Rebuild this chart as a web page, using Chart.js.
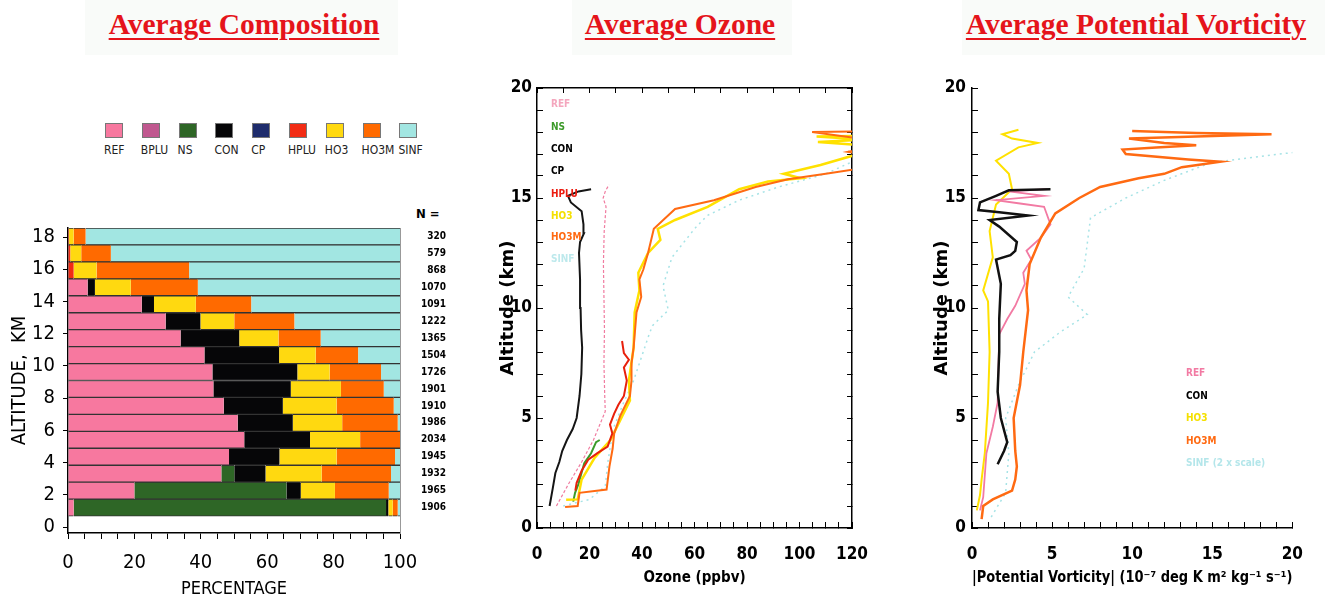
<!DOCTYPE html>
<html>
<head>
<meta charset="utf-8">
<title>Average Composition, Ozone and Potential Vorticity</title>
<script src="https://cdn.jsdelivr.net/npm/chart.js@4.4.1/dist/chart.umd.min.js"></script>
<style>
  body { margin: 0; background: #fff; }
  #page { position: relative; width: 1325px; height: 602px; overflow: hidden; }
  .titlebox { position: absolute; top: 0; height: 55px; background: #f9fbf9; }
  .title { position: absolute; top: 6px; text-align: center; white-space: nowrap;
           font: bold 29.5px 'Liberation Serif', 'Times New Roman', serif; color: #e5141b; line-height: 36px; }
  .title span { text-decoration: underline; text-decoration-thickness: 2px; text-underline-offset: 4px; }
  canvas { position: absolute; }
  .lbl { position: absolute; white-space: nowrap; line-height: 1; transform: translateY(-50%);
         font: bold 10px 'Liberation Sans Narrow', 'DejaVu Sans Condensed', 'Liberation Sans', sans-serif; }
  .swatch { position: absolute; width: 18px; height: 15px; border: 1px solid #777; box-sizing: border-box; }
  .swlbl { position: absolute; top: 143px; white-space: nowrap; color: #222;
           font: 12px 'Liberation Sans Narrow', 'DejaVu Sans Condensed', 'Liberation Sans', sans-serif; }
</style>
</head>
<body>
<div id="page">
  <div class="titlebox" style="left:85px;width:313px"></div>
  <div class="titlebox" style="left:572px;width:220px"></div>
  <div class="titlebox" style="left:962px;width:363px"></div>
  <div class="title" style="left:44px;width:400px"><span>Average Composition</span></div>
  <div class="title" style="left:480px;width:400px"><span>Average Ozone</span></div>
  <div class="title" style="left:936px;width:400px"><span>Average Potential Vorticity</span></div>

  <div id="compLegend"></div>
  <div class="lbl" style="left:416px;top:213px;font-size:13px">N =</div>

  <canvas id="comp" width="460" height="402" style="left:0;top:200px"></canvas>
  <canvas id="ozone" width="420" height="542" style="left:470px;top:60px"></canvas>
  <canvas id="pv" width="425" height="542" style="left:900px;top:60px"></canvas>
  <div id="ozoneLegend"></div>
  <div id="pvLegend"></div>
</div>

<script>
const NARROW = "'Liberation Sans Narrow', 'DejaVu Sans Condensed', 'Liberation Sans', Arial, sans-serif";

// ---------- Average Composition : percentage per 1 km layer, top layer first ----------
const layerLabels = ['17-18', '16-17', '15-16', '14-15', '13-14', '12-13', '11-12', '10-11', '9-10',
                     '8-9', '7-8', '6-7', '5-6', '4-5', '3-4', '2-3', '1-2', '0-1'];
const sampleCounts = ['320', '579', '868', '1070', '1091', '1222', '1365', '1504', '1726',
                      '1901', '1910', '1986', '2034', '1945', '1932', '1965', '1906', ''];
const altitudeTicks = [0, 2, 4, 6, 8, 10, 12, 14, 16, 18];
const classNames = ['REF', 'BPLU', 'NS', 'CON', 'CP', 'HPLU', 'HO3', 'HO3M', 'SINF'];
const classColors = ['#f7789f', '#c0588f', '#2e6626', '#060608', '#1e2c6c', '#f22c14', '#ffd910', '#ff6a00', '#a2e6e2'];

const pctREF  = [0, 0, 0, 5.9, 22.2, 29.4, 33.9, 41.1, 43.5, 43.8, 46.9, 51.1, 53.1, 48.5, 46.2, 20.0, 1.7, null];
const pctBPLU = [0, 0, 0, 0, 0, 0, 0, 0, 0, 0, 0, 0, 0, 0, 0, 0, 0, null];
const pctNS   = [0, 0, 0, 0, 0, 0, 0, 0, 0, 0, 0, 0, 0, 0, 3.9, 45.8, 94.1, null];
const pctCON  = [0, 0, 0, 2.2, 3.7, 10.5, 17.7, 22.5, 25.6, 23.3, 17.8, 16.6, 19.8, 15.2, 9.4, 4.3, 0.7, null];
const pctCP   = [0, 0, 0, 0, 0, 0, 0, 0, 0, 0, 0, 0, 0, 0, 0, 0, 0, null];
const pctHPLU = [0.3, 0.7, 1.7, 0, 0, 0, 0, 0, 0, 0, 0, 0, 0, 0, 0, 0, 0, null];
const pctHO3  = [1.4, 3.3, 6.9, 10.8, 12.6, 10.2, 11.8, 11.0, 9.7, 15.1, 16.2, 14.9, 15.1, 17.2, 16.9, 10.3, 1.3, null];
const pctHO3M = [3.6, 8.9, 27.9, 20.2, 16.7, 18.1, 12.7, 12.8, 15.5, 12.9, 17.2, 16.7, 12.0, 17.6, 20.9, 16.2, 1.5, null];
const pctSINF = [94.7, 87.1, 63.5, 60.9, 44.8, 31.8, 23.9, 12.6, 5.7, 4.9, 1.9, 0.7, 0, 1.5, 2.7, 3.4, 0.7, null];
const composition = [pctREF, pctBPLU, pctNS, pctCON, pctCP, pctHPLU, pctHO3, pctHO3M, pctSINF];

// ---------- Average Ozone (ppbv) vs altitude (km) ----------
const o3RefX   = [7.4, 12.0, 17.0, 21.5, 26.0, 25.8, 25.5, 25.7, 25.5, 25.3, 25.6, 26.3, 25.2, 26.0, 27.4];
const o3RefAlt = [1.0, 2.0, 3.0, 4.0, 5.3, 6.0, 7.5, 9.0, 10.5, 12.0, 13.5, 14.6, 15.0, 15.3, 15.6];
const o3NsX    = [13.8, 14.5, 15.8, 18.0, 20.6, 22.5, 23.9];
const o3NsAlt  = [1.2, 1.6, 2.0, 2.95, 3.4, 3.9, 4.0];
const o3ConX   = [4.8, 6.0, 7.0, 8.5, 9.6, 11.4, 13.6, 15.1, 16.2, 16.9, 17.2, 16.8, 16.6, 16.4, 16.0, 16.4, 17.9, 17.7, 17.0, 12.9, 11.8, 15.8, 20.6];
const o3ConAlt = [1.0, 1.8, 2.5, 3.0, 3.5, 4.0, 4.5, 5.0, 6.0, 7.0, 8.2, 9.0, 10.0, 11.3, 12.5, 13.0, 13.4, 13.8, 14.4, 14.8, 15.1, 15.3, 15.4];
const o3HpluX   = [14.6, 15.1, 17.0, 19.5, 23.0, 26.9, 28.7, 27.8, 29.4, 31.0, 33.1, 34.2, 33.1, 35.0, 33.1, 32.4];
const o3HpluAlt = [1.7, 2.05, 2.6, 3.1, 3.4, 3.7, 4.3, 4.7, 5.2, 5.6, 6.0, 6.7, 7.3, 7.65, 7.95, 8.5];
const o3Ho3X   = [11.1, 15.5, 17.0, 22.0, 28.0, 31.7, 35.4, 35.0, 36.8, 37.2, 39.0, 38.6, 42.3, 47.0, 46.0, 52.6, 65.0, 77.0,
                  88.0, 100.5, 94.0, 108.0, 121.0, 135.0, 107.0, 125.0, 106.5, 135.0];
const o3Ho3Alt = [1.28, 1.3, 2.2, 3.2, 4.0, 4.9, 5.8, 6.7, 8.2, 9.8, 10.8, 11.6, 12.5, 13.1, 13.6, 14.0, 14.6, 15.4,
                  15.75, 15.9, 16.1, 16.5, 16.95, 17.3, 17.55, 17.65, 17.8, 17.85];
const o3Ho3mX   = [10.7, 15.5, 16.2, 26.5, 27.6, 28.8, 29.4, 31.7, 35.4, 36.0, 36.0, 36.8, 37.9, 39.7, 39.0, 40.5, 42.3, 44.5,
                   52.6, 67.4, 83.3, 95.6, 110.0, 121.0, 135.0, 118.5, 135.0, 104.8, 135.0];
const o3Ho3mAlt = [0.96, 1.0, 1.6, 1.75, 2.8, 3.6, 4.3, 5.1, 6.0, 6.7, 7.5, 8.2, 9.8, 10.5, 11.3, 11.75, 12.5, 13.6,
                   14.5, 14.9, 15.5, 15.85, 16.1, 16.3, 16.8, 17.1, 17.5, 18.0, 18.05];
const o3SinfX   = [10.0, 20.0, 26.0, 27.0, 29.0, 33.0, 36.8, 42.7, 44.0, 50.0, 48.0, 51.4, 60.0, 64.8, 77.0, 92.0, 110.0, 121.0];
const o3SinfAlt = [1.0, 1.3, 1.9, 3.0, 4.5, 5.7, 6.7, 8.8, 9.2, 9.9, 11.0, 12.3, 13.6, 14.2, 14.9, 15.5, 16.1, 16.7];

// ---------- Average |PV| (1e-7 deg K m2 kg-1 s-1) vs altitude (km) ----------
const pvRefX   = [0.5, 0.7, 0.9, 1.3, 1.6, 1.7, 2.2, 2.7, 3.3, 3.2, 3.7, 3.4, 4.3, 4.9, 4.5, 3.0, 1.5, 4.5, 2.3, 4.7];
const pvRefAlt = [0.8, 1.4, 3.4, 4.6, 5.7, 8.8, 9.5, 10.1, 11.1, 11.6, 12.2, 12.6, 13.2, 13.8, 14.6, 14.75, 14.9, 15.1, 15.3, 15.4];
const pvConX   = [1.6, 2.0, 2.2, 1.8, 1.6, 1.7, 1.7, 1.8, 1.5, 2.4, 2.7, 2.8, 1.7, 1.1, 3.5, 1.7, 0.4, 0.5, 1.5, 2.3, 4.9];
const pvConAlt = [2.9, 3.5, 3.9, 5.0, 6.2, 8.0, 9.5, 11.1, 12.2, 12.4, 12.6, 13.0, 13.7, 14.0, 14.2, 14.35, 14.45, 14.8, 15.1, 15.35, 15.4];
const pvHo3X   = [0.3, 0.5, 0.6, 0.8, 1.0, 1.1, 1.0, 0.7, 1.3, 1.1, 1.5, 2.5, 2.3, 1.5, 2.9, 4.1, 2.5, 1.9, 2.9];
const pvHo3Alt = [0.8, 1.5, 2.2, 3.4, 5.7, 8.0, 10.3, 10.8, 12.3, 13.5, 14.7, 15.4, 16.1, 16.7, 17.3, 17.5, 17.7, 17.9, 18.1];
const pvHo3mX   = [0.6, 0.7, 1.3, 2.5, 2.7, 2.8, 2.7, 2.6, 3.0, 3.2, 3.5, 3.4, 3.6, 4.3, 5.2, 6.7, 8.0, 10.4, 12.0, 13.1,
                   15.5, 13.5, 9.6, 9.4, 11.5, 14.0, 12.0, 9.8, 14.0, 18.7, 14.0, 10.0];
const pvHo3mAlt = [0.4, 1.0, 1.3, 1.7, 2.2, 2.8, 3.5, 5.0, 6.5, 8.0, 9.9, 10.8, 12.0, 13.2, 14.3, 15.0, 15.5, 15.9, 16.1, 16.4,
                   16.65, 16.75, 17.0, 17.2, 17.3, 17.4, 17.5, 17.7, 17.8, 17.9, 17.95, 18.05];
const pvSinfX   = [1.2, 2.1, 2.3, 2.1, 2.9, 3.9, 5.5, 7.2, 6.0, 7.0, 7.4, 9.6, 12.0, 14.9, 19.2, 20.5];
const pvSinfAlt = [0.5, 1.6, 3.4, 5.0, 6.5, 8.0, 8.9, 9.7, 10.5, 11.8, 14.1, 15.0, 15.8, 16.6, 17.0, 17.1];

const ozoneTicks = [0, 20, 40, 60, 80, 100, 120];
const pvTicks = [0, 5, 10, 15, 20];
const altTicks = [0, 5, 10, 15, 20];

// ---------- legends (html text) ----------
function addLabel(parentId, text, left, top, color) {
  let el = document.createElement('div');
  el.className = 'lbl';
  el.style.left = left + 'px';
  el.style.top = top + 'px';
  el.style.color = color;
  el.textContent = text;
  document.getElementById(parentId).append(el);
}

for (let i = 0; i < classNames.length; i++) {
  let x = 105 + i * 36.8;
  let sw = document.createElement('div');
  sw.className = 'swatch';
  sw.style.left = x + 'px';
  sw.style.top = '123px';
  sw.style.background = classColors[i];
  let tx = document.createElement('div');
  tx.className = 'swlbl';
  tx.style.left = (x - 1) + 'px';
  tx.textContent = classNames[i];
  document.getElementById('compLegend').append(sw, tx);
}

addLabel('ozoneLegend', 'REF', 551, 103, '#f4a6bd');
addLabel('ozoneLegend', 'NS', 551, 126, '#3c9a2a');
addLabel('ozoneLegend', 'CON', 551, 148, '#000');
addLabel('ozoneLegend', 'CP', 551, 170, '#000');
addLabel('ozoneLegend', 'HPLU', 551, 193, '#ec1c10');
addLabel('ozoneLegend', 'HO3', 551, 215, '#f5e000');
addLabel('ozoneLegend', 'HO3M', 551, 236, '#ff6a12');
addLabel('ozoneLegend', 'SINF', 551, 258, '#bde9ec');

addLabel('pvLegend', 'REF', 1186, 372, '#f27aa3');
addLabel('pvLegend', 'CON', 1186, 395, '#000');
addLabel('pvLegend', 'HO3', 1186, 417, '#f5e000');
addLabel('pvLegend', 'HO3M', 1186, 440, '#ff6a12');
addLabel('pvLegend', 'SINF (2 x scale)', 1186, 462, '#b4e6ea');

// ---------- composition chart ----------
new Chart(document.getElementById('comp'), {
  type: 'bar',
  data: {
    labels: layerLabels,
    datasets: classNames.map((name, k) => ({
      label: name,
      data: composition[k].map(v => (v ? v : null)),
      backgroundColor: classColors[k],
      borderColor: '#333',
      borderWidth: { top: 1, bottom: 1, left: 0, right: 0 },
      borderSkipped: false,
      barPercentage: 1,
      categoryPercentage: 1
    }))
  },
  options: {
    indexAxis: 'y',
    responsive: false,
    animation: false,
    layout: { padding: { top: 28, left: 0, right: 14, bottom: 0 } },
    plugins: { legend: { display: false }, tooltip: { enabled: false } },
    scales: {
      x: {
        stacked: true, min: 0, max: 100,
        ticks: { stepSize: 5, autoSkip: false, maxRotation: 0, padding: 12, color: '#000',
                 font: { family: NARROW, size: 20 },
                 callback: v => (v % 20 === 0 ? v : '') },
        grid: { drawOnChartArea: false, tickLength: 6, color: '#000' },
        border: { color: '#000', width: 1.5 },
        title: { display: true, text: 'PERCENTAGE', color: '#000',
                 font: { family: NARROW, size: 18 }, padding: { top: 0, bottom: 2 } },
        afterFit: s => { s.height = 69; }
      },
      y: { stacked: true, display: false },
      alt: {
        type: 'linear', position: 'left', min: -0.37, max: 18.56, bounds: 'data', offset: false,
        afterBuildTicks: s => { s.ticks = altitudeTicks.map(v => ({ value: v })); },
        ticks: { autoSkip: false, padding: 8, color: '#000', font: { family: NARROW, size: 20 } },
        grid: { drawOnChartArea: false, offset: false, tickLength: 5, color: '#000' },
        border: { color: '#000', width: 1.5 },
        title: { display: true, text: 'ALTITUDE,  KM', color: '#000',
                 font: { family: NARROW, size: 20 }, padding: { top: 8, bottom: 0 } },
        afterFit: s => { s.width = 68; }
      },
      n: {
        type: 'category', position: 'right', labels: sampleCounts, offset: true,
        grid: { display: false, drawTicks: false },
        border: { color: '#999', width: 1 },
        ticks: { crossAlign: 'far', padding: 0, autoSkip: false, color: '#000',
                 font: { family: NARROW, size: 10, weight: 'bold' } },
        afterFit: s => { s.width = 46; }
      }
    }
  }
});

// ---------- profile charts ----------
function pairs(xs, ys) {
  return xs.map((x, i) => ({ x: x, y: ys[i] }));
}

function profile(label, xs, ys, color, width, dash) {
  return {
    label: label,
    data: pairs(xs, ys),
    showLine: true,
    borderColor: color,
    backgroundColor: color,
    borderWidth: width,
    borderDash: dash || [],
    pointRadius: 0,
    tension: 0,
    fill: false
  };
}

const tickFont = { family: NARROW, size: 17, weight: 'bold' };

function valueAxis(max, step, labels, title, titleFont, titlePad, labelPad, size, horizontal) {
  return {
    type: 'linear', min: 0, max: max,
    ticks: { stepSize: step, autoSkip: false, maxRotation: 0, padding: labelPad, color: '#000', font: tickFont,
             callback: v => (labels.includes(v) ? v : '') },
    grid: { drawOnChartArea: false, tickLength: -6, color: '#000' },
    border: { color: '#000', width: 1.5 },
    title: { display: true, text: title, color: '#000', font: titleFont, padding: titlePad },
    afterFit: s => { if (horizontal) { s.height = size; } else { s.width = size; } }
  };
}

new Chart(document.getElementById('ozone'), {
  type: 'scatter',
  data: {
    datasets: [
      profile('HPLU', o3HpluX, o3HpluAlt, '#e8200c', 2),
      profile('HO3M', o3Ho3mX, o3Ho3mAlt, '#ff6a12', 2),
      profile('HO3', o3Ho3X, o3Ho3Alt, '#ffe100', 2.5),
      profile('NS', o3NsX, o3NsAlt, '#3c9a2a', 2),
      profile('CON', o3ConX, o3ConAlt, '#151515', 2),
      profile('REF', o3RefX, o3RefAlt, '#f07ca0', 1.2, [3, 2]),
      profile('SINF', o3SinfX, o3SinfAlt, '#a6e3e6', 1.5, [2, 4])
    ]
  },
  options: {
    responsive: false,
    animation: false,
    layout: { padding: 0 },
    plugins: { legend: { display: false }, tooltip: { enabled: false } },
    scales: {
      x: valueAxis(120, 5, ozoneTicks, 'Ozone (ppbv)', { family: NARROW, size: 15, weight: 'bold' },
                   { top: 0, bottom: 15 }, 22, 74, true),
      y: valueAxis(20, 1, altTicks, 'Altitude (km)', { family: "'DejaVu Sans', sans-serif", size: 18, weight: 'bold' },
                   { top: 28, bottom: 0 }, 11, 67, false),
      xTop: {
        type: 'linear', position: 'top', min: 0, max: 120,
        ticks: { display: false, stepSize: 10 },
        grid: { drawOnChartArea: false, tickLength: -5, color: '#000' },
        border: { color: '#000', width: 1.5 },
        afterFit: s => { s.height = 28; }
      },
      yRight: {
        type: 'linear', position: 'right', min: 0, max: 20,
        ticks: { display: false, stepSize: 1 },
        grid: { drawOnChartArea: false, tickLength: -5, color: '#000' },
        border: { color: '#000', width: 1.5 },
        afterFit: s => { s.width = 24; }
      }
    }
  }
});

new Chart(document.getElementById('pv'), {
  type: 'scatter',
  data: {
    datasets: [
      profile('HO3M', pvHo3mX, pvHo3mAlt, '#ff6a12', 2.5),
      profile('CON', pvConX, pvConAlt, '#111', 2.5),
      profile('REF', pvRefX, pvRefAlt, '#f27aa3', 1.8),
      profile('HO3', pvHo3X, pvHo3Alt, '#ffe100', 2),
      profile('SINF (2 x scale)', pvSinfX, pvSinfAlt, '#a6e3e6', 1.5, [2, 4])
    ]
  },
  options: {
    responsive: false,
    animation: false,
    layout: { padding: { top: 28, right: 24, left: 0, bottom: 0 } },
    plugins: { legend: { display: false }, tooltip: { enabled: false } },
    scales: {
      x: valueAxis(20, 1, pvTicks, '|Potential Vorticity| (10⁻⁷ deg K m² kg⁻¹ s⁻¹)',
                   { family: NARROW, size: 15, weight: 'bold' }, { top: 0, bottom: 15 }, 22, 74, true),
      y: valueAxis(20, 1, altTicks, 'Altitude (km)', { family: "'DejaVu Sans', sans-serif", size: 18, weight: 'bold' },
                   { top: 32, bottom: 0 }, 12, 72, false)
    }
  }
});
</script>
</body>
</html>
